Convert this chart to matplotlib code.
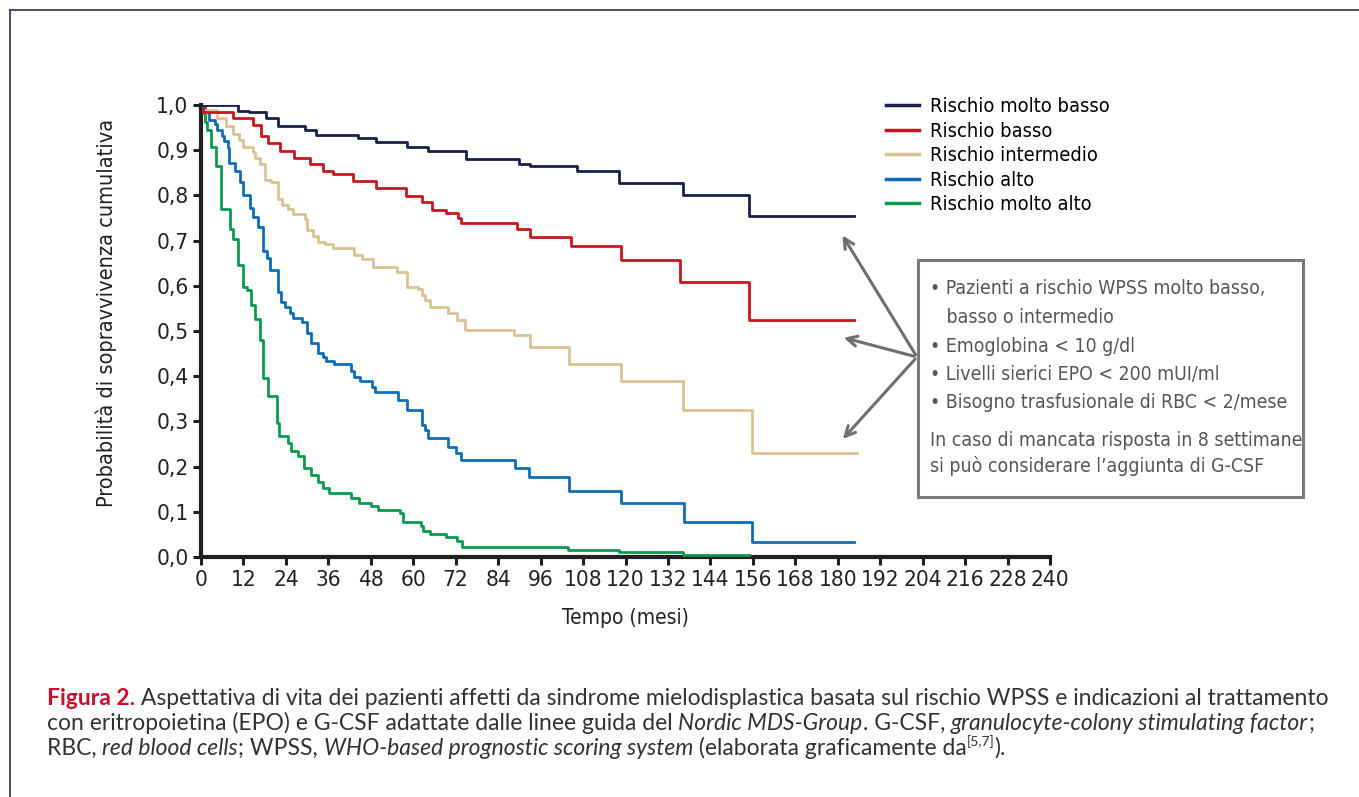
import matplotlib
matplotlib.use("Agg")
import matplotlib.pyplot as plt
from matplotlib import font_manager
from matplotlib.patches import FancyArrowPatch, Rectangle
from matplotlib.lines import Line2D

W, H = 1359, 797

# look for a narrow sans (the original uses a condensed Helvetica)
narrow = None
for f in font_manager.fontManager.ttflist:
    nm = f.name.lower()
    if ('narrow' in nm or 'condensed' in nm or f.stretch in ('condensed', 'semi-condensed')) \
            and 'mono' not in nm and 'serif' not in nm and f.style == 'normal':
        narrow = f
        break
if narrow is not None:
    NARROW = [narrow.name, 'DejaVu Sans']
    STRETCH = narrow.stretch
    K = 1.2
else:
    NARROW = ['Roboto', 'DejaVu Sans']
    STRETCH = 'normal'
    K = 1.0
CAPF = ['Lato', 'DejaVu Sans']

# Kaplan-Meier curves (mesi, probabilita)
t_molto_basso = [0, 10.5, 13.7, 18.4, 21.9, 29.4, 32.5, 44.5, 49.5, 58.1, 64.3, 74.9,
                 89.8, 93.0, 106.2, 118.2, 136.2, 155.0, 184.6]
s_molto_basso = [1.0, 0.987, 0.984, 0.971, 0.954, 0.945, 0.934, 0.926, 0.919, 0.906, 0.898,
                 0.881, 0.869, 0.864, 0.853, 0.827, 0.801, 0.754, 0.754]

t_basso = [0, 0.5, 9.1, 14.6, 16.9, 18.8, 22.3, 26.4, 30.8, 34.6, 37.4, 43.1, 49.5, 58.0,
           62.4, 65.2, 69.3, 72.7, 73.5, 89.4, 93.0, 104.5, 118.6, 135.4, 155.0, 184.6]
s_basso = [1.0, 0.984, 0.971, 0.956, 0.931, 0.915, 0.898, 0.882, 0.869, 0.854, 0.847, 0.832,
           0.816, 0.799, 0.786, 0.768, 0.760, 0.750, 0.740, 0.726, 0.707, 0.687, 0.657,
           0.608, 0.524, 0.524]

t_interm = [0, 0.5, 4.4, 7.1, 9.1, 10.8, 11.8, 14.6, 15.3, 16.7, 18.1, 19.7, 21.9, 22.8,
            24.7, 25.9, 29.4, 30.1, 31.7, 33.2, 35.1, 37.4, 43.3, 45.4, 48.7, 55.3, 58.1,
            61.4, 62.4, 63.3, 64.7, 69.9, 72.3, 74.6, 88.6, 93.0, 104.1, 118.6, 136.3,
            155.9, 185.4]
s_interm = [1.0, 0.99, 0.971, 0.954, 0.935, 0.923, 0.906, 0.897, 0.882, 0.869, 0.834, 0.829,
            0.792, 0.779, 0.769, 0.759, 0.748, 0.723, 0.711, 0.698, 0.692, 0.683, 0.668,
            0.659, 0.642, 0.631, 0.598, 0.593, 0.580, 0.569, 0.552, 0.539, 0.524, 0.502,
            0.491, 0.464, 0.428, 0.389, 0.325, 0.229, 0.229]

t_alto = [0, 1.2, 2.4, 4.0, 4.4, 5.8, 6.6, 7.5, 8.0, 9.6, 11.0, 11.8, 13.9, 14.8, 16.2,
          17.6, 18.6, 19.5, 21.9, 22.5, 23.7, 25.2, 26.1, 28.5, 29.9, 31.0, 33.0, 34.4,
          35.3, 37.6, 42.3, 43.3, 45.0, 48.2, 49.2, 55.8, 58.1, 62.4, 63.3, 64.3, 69.9,
          72.1, 73.4, 88.8, 92.8, 104.1, 118.6, 136.5, 155.9, 184.6]
s_alto = [1.0, 0.989, 0.967, 0.957, 0.945, 0.931, 0.921, 0.904, 0.871, 0.854, 0.829, 0.801,
          0.773, 0.753, 0.729, 0.678, 0.661, 0.635, 0.587, 0.565, 0.554, 0.539, 0.529,
          0.521, 0.495, 0.473, 0.451, 0.443, 0.434, 0.426, 0.412, 0.399, 0.390, 0.377,
          0.364, 0.347, 0.325, 0.292, 0.281, 0.263, 0.244, 0.229, 0.214, 0.198, 0.178,
          0.147, 0.119, 0.077, 0.033, 0.033]

t_molto_alto = [0, 0.5, 1.1, 1.8, 2.7, 4.2, 5.7, 8.2, 9.1, 10.5, 12.0, 12.9, 14.1, 15.3,
                16.7, 17.6, 18.8, 21.4, 22.1, 24.7, 25.4, 27.5, 29.2, 31.0, 33.2, 34.4,
                36.3, 42.4, 44.8, 48.1, 50.1, 56.3, 57.2, 62.1, 62.8, 64.7, 69.3, 72.3,
                73.7, 103.8, 118.2, 136.2, 155.0]
s_molto_alto = [1.0, 0.982, 0.963, 0.945, 0.908, 0.865, 0.769, 0.726, 0.704, 0.646, 0.598,
                0.591, 0.558, 0.526, 0.480, 0.397, 0.356, 0.297, 0.268, 0.252, 0.235, 0.224,
                0.198, 0.181, 0.167, 0.152, 0.141, 0.131, 0.120, 0.113, 0.104, 0.097,
                0.077, 0.069, 0.058, 0.051, 0.044, 0.036, 0.023, 0.015, 0.010, 0.004, 0.004]

labels = ["Rischio molto basso", "Rischio basso", "Rischio intermedio",
          "Rischio alto", "Rischio molto alto"]
colors = ['#1c1f4e', '#c8161e', '#d9c391', '#0f6cb6', '#0a9a4e']
curves = [(t_molto_basso, s_molto_basso), (t_basso, s_basso), (t_interm, s_interm),
          (t_alto, s_alto), (t_molto_alto, s_molto_alto)]

xticks = list(range(0, 241, 12))
yticks = [0.0, 0.1, 0.2, 0.3, 0.4, 0.5, 0.6, 0.7, 0.8, 0.9, 1.0]
ytick_labels = ['0,0', '0,1', '0,2', '0,3', '0,4', '0,5', '0,6', '0,7', '0,8', '0,9', '1,0']

box_items = ["\u2022 Pazienti a rischio WPSS molto basso,",
             "   basso o intermedio",
             "\u2022 Emoglobina < 10 g/dl",
             "\u2022 Livelli sierici EPO < 200 mUI/ml",
             "\u2022 Bisogno trasfusionale di RBC < 2/mese"]
box_note = ["In caso di mancata risposta in 8 settimane",
            "si pu\u00f2 considerare l\u2019aggiunta di G-CSF"]


def fx(x):
    return x / W


def fy(y):
    return 1 - y / H


def txt(size):
    return dict(family=NARROW, stretch=STRETCH, fontsize=size * K)


fig = plt.figure(figsize=(W / 100, H / 100), dpi=100)
ax = fig.add_axes([fx(201), fy(557), (1050 - 201) / W, (557 - 105) / H])

for i in reversed(range(5)):
    t, s = curves[i]
    ax.step(t, s, where='post', color=colors[i], lw=2.0, label=labels[i], zorder=3 + (4 - i))

ax.set_xlim(0, 240)
ax.set_ylim(0, 1.0)
ax.set_xticks(xticks)
ax.set_xticklabels([str(v) for v in xticks], color='#222222', **txt(13.5))
ax.set_yticks(yticks)
ax.set_yticklabels(ytick_labels, color='#222222', **txt(13.5))
for side in ['top', 'right']:
    ax.spines[side].set_visible(False)
for side in ['left', 'bottom']:
    ax.spines[side].set_linewidth(3)
    ax.spines[side].set_color('#231f20')
ax.tick_params(direction='out', length=6, width=2.2, color='#231f20', pad=3)
ax.set_xlabel('Tempo (mesi)', color='#222222', labelpad=13, **txt(12.5))
ax.set_ylabel('Probabilit\u00e0 di sopravvivenza cumulativa', color='#222222', **txt(13))
ax.yaxis.set_label_coords(-0.099, 0.54)

# legend
handles = [Line2D([], [], color=c, lw=2.5) for c in colors]
fig.legend(handles, labels, loc='upper left', bbox_to_anchor=(fx(878), fy(89)),
           frameon=False, prop={'family': NARROW, 'stretch': STRETCH, 'size': 12 * K},
           handlelength=1.65, handletextpad=0.55, labelspacing=0.28, borderaxespad=0)

# annotation box
fig.add_artist(Rectangle((fx(918), fy(497)), (1303 - 918) / W, (497 - 260) / H,
                         transform=fig.transFigure, fill=False, ec='#7a7a7a', lw=2.2))
ys = [289, 317, 346, 374, 403]
for yy, s_ in zip(ys, box_items):
    fig.text(fx(930), fy(yy), s_, color='#575757', va='center', **txt(11.6))
for yy, s_ in zip([441, 466], box_note):
    fig.text(fx(930), fy(yy), s_, color='#575757', va='center', **txt(11.6))

for tx, ty in [(841, 233), (841, 337), (841, 441)]:
    fig.add_artist(FancyArrowPatch((fx(917), fy(357)), (fx(tx), fy(ty)),
                                   transform=fig.transFigure, arrowstyle='->',
                                   mutation_scale=18, color='#6f6f6f', lw=2.2))

# outer frame (top and left)
fig.add_artist(Line2D([fx(10), 1], [fy(10), fy(10)], transform=fig.transFigure,
                      color='#2b2d5c', lw=1.2))
fig.add_artist(Line2D([fx(10), fx(10)], [fy(10), 0], transform=fig.transFigure,
                      color='#2b2d5c', lw=1.2))

# caption
dark = '#333333'
cap_lines = [
    [("Figura 2.", 'normal', 'bold', '#c8102e'),
     (" Aspettativa di vita dei pazienti affetti da sindrome mielodisplastica basata sul rischio WPSS e indicazioni al trattamento", 'normal', 'normal', dark)],
    [("con eritropoietina (EPO) e G-CSF adattate dalle linee guida del ", 'normal', 'normal', dark),
     ("Nordic MDS-Group", 'italic', 'normal', dark),
     (". G-CSF, ", 'normal', 'normal', dark),
     ("granulocyte-colony stimulating factor", 'italic', 'normal', dark),
     (";", 'normal', 'normal', dark)],
    [("RBC, ", 'normal', 'normal', dark),
     ("red blood cells", 'italic', 'normal', dark),
     ("; WPSS, ", 'normal', 'normal', dark),
     ("WHO-based prognostic scoring system", 'italic', 'normal', dark),
     (" (elaborata graficamente da", 'normal', 'normal', dark),
     ("[5,7]", 'sup', 'normal', dark),
     (").", 'normal', 'normal', dark)],
]
cap_y = [709, 734, 759]
for line, yy in zip(cap_lines, cap_y):
    base = fig.text(fx(47), fy(yy), line[0][0], family=CAPF, fontsize=16.5,
                    weight=line[0][2], color=line[0][3], va='bottom')
    prev = base
    for s_, style, weight, col in line[1:]:
        if style == 'sup':
            prev = fig.add_artist(matplotlib.text.Annotation(
                s_, xy=(1, 0.5), xycoords=prev, va='bottom', ha='left',
                family=CAPF, fontsize=10, color=col))
        else:
            prev = fig.add_artist(matplotlib.text.Annotation(
                s_, xy=(1, 0), xycoords=(prev, base), va='bottom', ha='left',
                family=CAPF, fontsize=16.5, style=style, weight=weight, color=col))

fig.savefig('out.png', dpi=100)
